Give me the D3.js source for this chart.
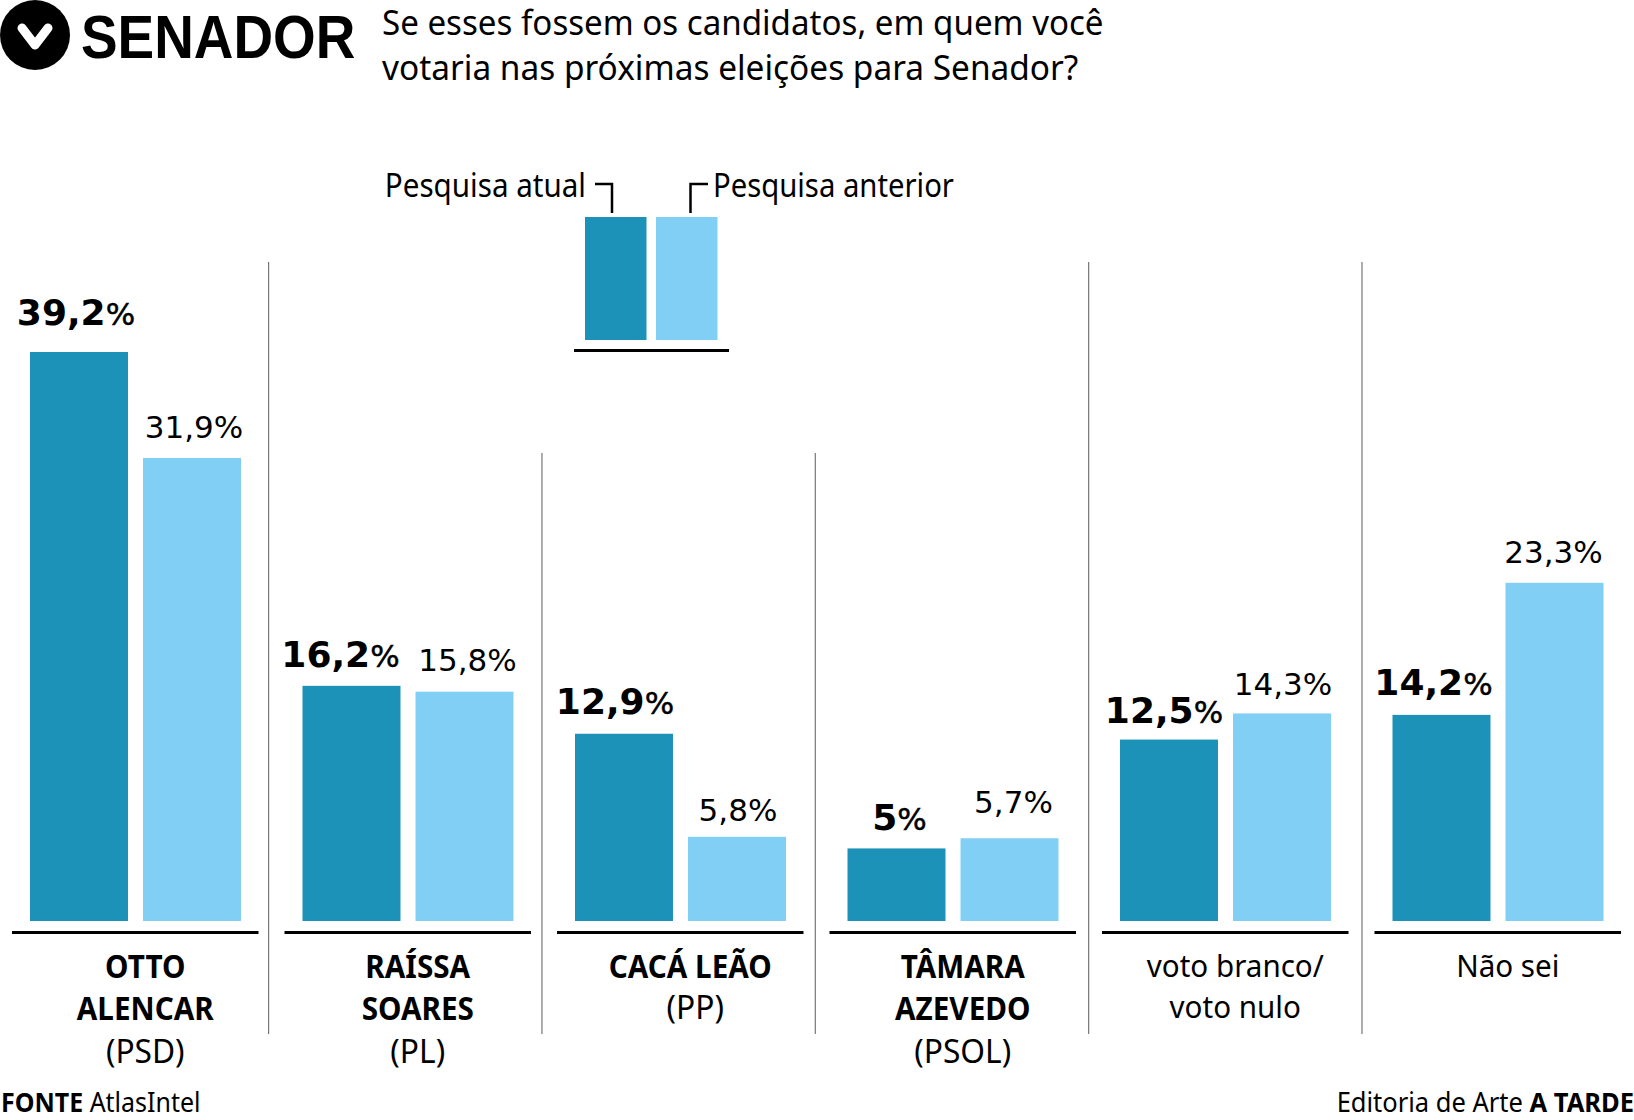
<!DOCTYPE html>
<html><head><meta charset="utf-8"><style>html,body{margin:0;padding:0;background:#fff}svg{display:block}text{font-family:"Noto Sans";fill:#000}</style>
<script src="https://cdn.jsdelivr.net/npm/d3@7"></script></head><body><svg id="c" width="1634" height="1120"></svg>
<script>
const categories=["OTTO ALENCAR","RAÍSSA SOARES","CACÁ LEÃO","TÂMARA AZEVEDO","voto branco/voto nulo","Não sei"];
const nameLine1=["OTTO","RAÍSSA","CACÁ LEÃO","TÂMARA","voto branco/","Não sei"];
const nameLine2=["ALENCAR","SOARES","","AZEVEDO","voto nulo",""];
const party=["(PSD)","(PL)","(PP)","(PSOL)","",""];
const atual=[39.2,16.2,12.9,5,12.5,14.2];
const anterior=[31.9,15.8,5.8,5.7,14.3,23.3];
const atualLabels=["39,2","16,2","12,9","5","12,5","14,2"];
const anteriorLabels=["31,9","15,8","5,8","5,7","14,3","23,3"];
const series=["atual","anterior"];
const colors=["#1c92b9","#82cff6"];
const svg=d3.select("#c");
const x0=d3.scaleBand().domain(categories).range([12,1621]).paddingInner(0.0954);
const x1=d3.scaleBand().domain(series).range([18,229]).paddingInner(0.133);
const y=d3.scaleLinear().domain([0,39.2]).range([921,352]);
const dividerX=d3.scaleLinear().domain([1,5]).range([268.6,1362]);
[[1,262],[2,453],[3,453],[4,262],[5,262]].forEach(([i,t])=>{
  const px=dividerX(i);
  svg.append("line").attr("x1",px).attr("x2",px).attr("y1",t).attr("y2",1034).attr("stroke","#777").attr("stroke-width",1.2);
});
function txt(x,yy,s,o={}){
  return svg.append("text").attr("transform",`translate(${x},${yy}) scale(${o.f||1},1)`).attr("font-size",o.size||30).attr("text-anchor",o.anchor||"middle").attr("font-weight",o.weight||400).text(s);
}
const nudgeA=[-3,-11,-9,3,-5,-8], nudgeB=[2,3,1,4,1,-1], upA=[27,19,20,18,17,20], upB=[20,21,16,25,18,20];
categories.forEach((c,i)=>{
  const g=x0(c);
  svg.append("rect").attr("x",g+x1("atual")).attr("width",x1.bandwidth()).attr("y",y(atual[i])).attr("height",y(0)-y(atual[i])).attr("fill",colors[0]);
  svg.append("rect").attr("x",g+x1("anterior")).attr("width",x1.bandwidth()).attr("y",y(anterior[i])).attr("height",y(0)-y(anterior[i])).attr("fill",colors[1]);
  svg.append("rect").attr("x",g).attr("width",x0.bandwidth()).attr("y",931).attr("height",3).attr("fill","#000");
  const a=svg.append("text").attr("x",g+x1("atual")+x1.bandwidth()/2+nudgeA[i]).attr("y",y(atual[i])-upA[i]).attr("text-anchor","middle").style("font-family","DejaVu Sans");
  a.append("tspan").attr("font-weight",700).attr("font-size",36).text(atualLabels[i]);
  a.append("tspan").attr("font-size",31).attr("stroke","#000").attr("stroke-width",0.5).text("%");
  svg.append("text").attr("x",g+x1("anterior")+x1.bandwidth()/2+nudgeB[i]).attr("y",y(anterior[i])-upB[i]).attr("text-anchor","middle").style("font-family","DejaVu Sans").attr("font-size",31).text(anteriorLabels[i]+"%");
  const cx=g+x0.bandwidth()/2+10;
  const bold=i<4;
  const o=bold?{size:33,weight:700,f:0.9}:{size:31,f:0.955};
  txt(cx,bold?978:977,nameLine1[i],o);
  if(nameLine2[i]) txt(cx,bold?1020:1018,nameLine2[i],o);
  if(party[i]) txt(i==2?cx+5:cx,i==2?1019:1063,party[i],{size:32,f:0.99});
});
svg.append("circle").attr("cx",35).attr("cy",35).attr("r",35).attr("fill","#000");
svg.append("path").attr("d","M22 28 L35 45 L48 28").attr("fill","none").attr("stroke","#fff").attr("stroke-width",9).attr("stroke-linecap","round").attr("stroke-linejoin","round");
txt(81,58,"SENADOR",{size:62,weight:700,anchor:"start",f:0.885}).style("font-family","Liberation Sans");
txt(382,35,"Se esses fossem os candidatos, em quem você",{size:34,anchor:"start",f:0.974});
txt(382,80,"votaria nas próximas eleições para Senador?",{size:34,anchor:"start",f:0.983});
svg.append("rect").attr("x",585).attr("y",217).attr("width",61.5).attr("height",123).attr("fill",colors[0]);
svg.append("rect").attr("x",656).attr("y",217).attr("width",61.5).attr("height",123).attr("fill",colors[1]);
svg.append("rect").attr("x",574).attr("y",349).attr("width",155).attr("height",3).attr("fill","#000");
svg.append("path").attr("d","M595 184 H612 V213 M708 184 H690.5 V213").attr("fill","none").attr("stroke","#000").attr("stroke-width",2.5);
txt(586,197,"Pesquisa atual",{size:32,anchor:"end",f:0.925});
txt(713,197,"Pesquisa anterior",{size:32,anchor:"start",f:0.915});
const f=txt(1,1112,"",{size:27,anchor:"start",f:0.925});
f.append("tspan").attr("font-weight",700).text("FONTE ");f.append("tspan").text("AtlasIntel");
const e=txt(1634,1112,"",{size:27,anchor:"end",f:0.945});
e.append("tspan").text("Editoria de Arte ");e.append("tspan").attr("font-weight",700).text("A TARDE");
</script></body></html>
